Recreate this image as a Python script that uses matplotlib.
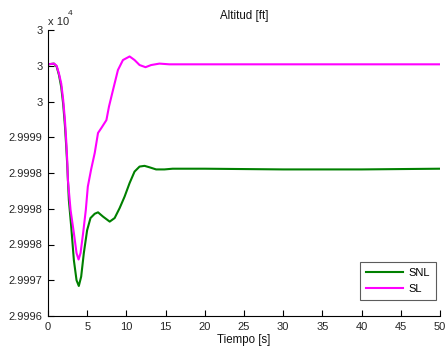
import matplotlib
matplotlib.use("Agg")
import matplotlib.pyplot as plt

# Time samples (s) and altitude (ft)
t_snl = [0, 0.76, 1.10, 1.40, 1.69, 1.94, 2.16, 2.32, 2.45, 2.66, 2.96, 3.30, 3.64,
         3.93, 4.23, 4.57, 4.99, 5.42, 5.96, 6.38, 7.02, 7.87, 8.50, 9.14, 9.77,
         10.41, 11.04, 11.68, 12.31, 12.94, 13.79, 14.85, 15.90, 20, 30, 40, 50]
alt_snl = [29999.52, 29999.53, 29999.49, 29999.37, 29999.20, 29998.96, 29998.66,
           29998.38, 29998.12, 29997.62, 29997.25, 29996.78, 29996.50, 29996.42,
           29996.55, 29996.88, 29997.20, 29997.37, 29997.43, 29997.45, 29997.39,
           29997.32, 29997.37, 29997.51, 29997.67, 29997.86, 29998.02, 29998.09,
           29998.10, 29998.08, 29998.05, 29998.05, 29998.06, 29998.06, 29998.05,
           29998.05, 29998.06]

t_sl = [0, 0.76, 1.10, 1.40, 1.69, 1.94, 2.16, 2.32, 2.45, 2.54, 2.88, 3.30, 3.64,
        3.90, 4.15, 4.48, 4.82, 5.08, 5.50, 5.96, 6.38, 6.81, 7.45, 7.78, 8.29,
        8.92, 9.56, 10.41, 11.04, 11.68, 12.44, 13.16, 14.21, 15.48, 20, 30, 40, 50]
alt_sl = [29999.52, 29999.53, 29999.50, 29999.39, 29999.25, 29999.02, 29998.74,
          29998.46, 29998.18, 29997.90, 29997.48, 29997.16, 29996.88, 29996.79,
          29996.88, 29997.16, 29997.48, 29997.81, 29998.05, 29998.28, 29998.56,
          29998.63, 29998.74, 29998.93, 29999.16, 29999.44, 29999.58, 29999.63,
          29999.58, 29999.51, 29999.48, 29999.51, 29999.53, 29999.52, 29999.52,
          29999.52, 29999.52, 29999.52]

series_labels = ["SNL", "SL"]
xticks = [0, 5, 10, 15, 20, 25, 30, 35, 40, 45, 50]
yticks = [29996.0, 29996.5, 29997.0, 29997.5, 29998.0, 29998.5, 29999.0, 29999.5, 30000.0]
ytick_labels = ["2.9996", "2.9997", "2.9998", "2.9998", "2.9998", "2.9999", "3", "3", "3"]

plt.rcParams['font.family'] = ['Liberation Sans', 'DejaVu Sans']

fig = plt.figure(figsize=(4.46, 3.52), dpi=100)
L, R, T, B = 48, 440, 30, 316
ax = fig.add_axes([L/446, (352-B)/352, (R-L)/446, (B-T)/352])

ax.plot(t_snl, alt_snl, color="#008000", lw=1.5, label=series_labels[0])
ax.plot(t_sl, alt_sl, color="#ff00ff", lw=1.5, label=series_labels[1])

ax.set_xlim(0, 50)
ax.set_ylim(29996, 30000)
ax.set_xticks(xticks)
ax.set_xticklabels([str(v) for v in xticks])
ax.set_yticks(yticks)
ax.set_yticklabels(ytick_labels)

for s in ["top", "right"]:
    ax.spines[s].set_visible(False)
for s in ["left", "bottom"]:
    ax.spines[s].set_linewidth(0.8)
ax.tick_params(direction="in", length=4, width=0.8, labelsize=8, colors="black",
               labelcolor="#262626", pad=4)

ax.set_title("Altitud [ft]", fontsize=8.3, pad=8, color="#111111")
ax.set_xlabel("Tiempo [s]", fontsize=8.3, labelpad=2, color="#111111")

ax.text(0.0, 1.012, "x 10", transform=ax.transAxes, fontsize=8, ha="left", va="bottom",
        color="#262626")
ax.text(0.05, 1.045, "4", transform=ax.transAxes, fontsize=6, ha="left", va="bottom",
        color="#262626")

leg = ax.legend(loc="lower right", bbox_to_anchor=((436 - L) / (R - L), (B - 300) / (B - T)),
                fontsize=8, frameon=True, fancybox=False, borderaxespad=0,
                handlelength=3.3, handletextpad=0.5, borderpad=0.55, labelspacing=0.5)
leg.get_frame().set_edgecolor("#333333")
leg.get_frame().set_linewidth(0.8)

fig.savefig("out.png", dpi=100)
